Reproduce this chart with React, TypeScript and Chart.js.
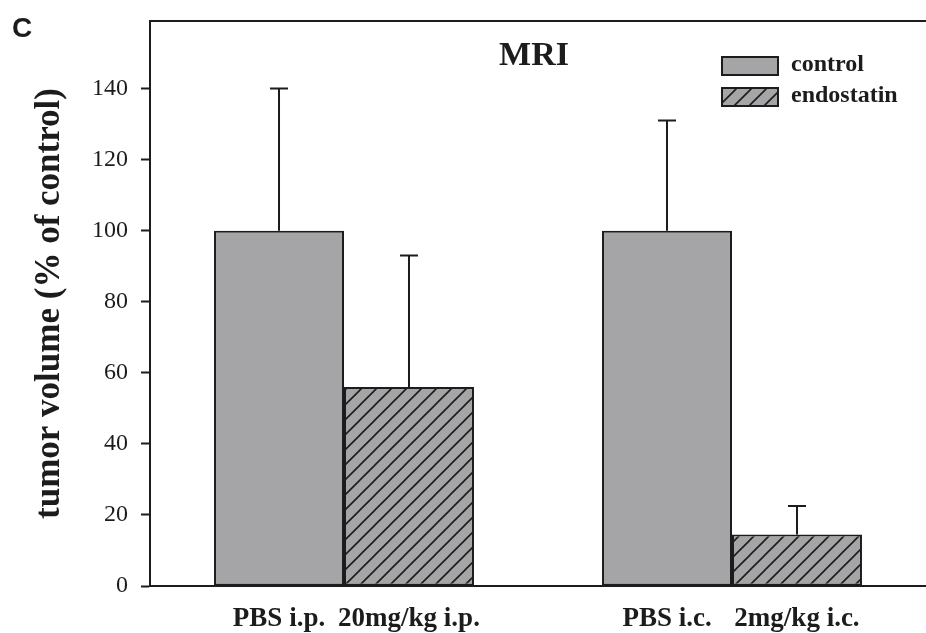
import React, { useEffect, useRef } from "react";
import { Chart, registerables } from "chart.js";

Chart.register(...registerables);

const categories = ["i.p.", "i.c."];
const controlLabels = ["PBS i.p.", "PBS i.c."];
const endostatinLabels = ["20mg/kg i.p.", "2mg/kg i.c."];
const controlValues = [100, 100];
const controlErrors = [40, 31];
const endostatinValues = [56, 14.5];
const endostatinErrors = [37, 8];
const yTicks = [0, 20, 40, 60, 80, 100, 120, 140];
const seriesNames = ["control", "endostatin"];

const DARK = "#1c1c1c";
const GRAY = "#a5a5a8";
const SERIF = "'Liberation Serif', 'Times New Roman', serif";

function makeHatch(): CanvasPattern | string {
  const S = 15;
  const c = document.createElement("canvas");
  c.width = S;
  c.height = S;
  const g = c.getContext("2d");
  if (!g) return GRAY;
  g.fillStyle = GRAY;
  g.fillRect(0, 0, S, S);
  g.strokeStyle = DARK;
  g.lineWidth = 1.6;
  g.beginPath();
  g.moveTo(-2, S + 2);
  g.lineTo(S + 2, -2);
  g.moveTo(-2, 2);
  g.lineTo(2, -2);
  g.moveTo(S - 2, S + 2);
  g.lineTo(S + 2, S - 2);
  g.stroke();
  const p = g.createPattern(c, "repeat");
  return p || GRAY;
}

export default function App() {
  const ref = useRef<HTMLCanvasElement | null>(null);

  useEffect(() => {
    if (!ref.current) return;
    const hatch = makeHatch();
    const errorSets = [controlErrors, endostatinErrors];
    const barLabels = [controlLabels, endostatinLabels];

    const decor = {
      id: "decor",
      afterDatasetsDraw(chart: any) {
        const ctx = chart.ctx as CanvasRenderingContext2D;
        const y = chart.scales.y;
        const area = chart.chartArea;
        ctx.save();
        // top frame line
        ctx.strokeStyle = DARK;
        ctx.lineWidth = 2;
        ctx.beginPath();
        ctx.moveTo(area.left, area.top);
        ctx.lineTo(chart.width, area.top);
        ctx.stroke();
        // error bars
        chart.data.datasets.forEach((ds: any, di: number) => {
          const meta = chart.getDatasetMeta(di);
          meta.data.forEach((bar: any, i: number) => {
            const top = y.getPixelForValue(ds.data[i] + errorSets[di][i]);
            ctx.beginPath();
            ctx.moveTo(bar.x, bar.y);
            ctx.lineTo(bar.x, top);
            ctx.moveTo(bar.x - 9, top);
            ctx.lineTo(bar.x + 9, top);
            ctx.stroke();
          });
        });
        // labels under bars
        ctx.fillStyle = DARK;
        ctx.font = `bold 27px ${SERIF}`;
        ctx.textAlign = "center";
        ctx.textBaseline = "alphabetic";
        chart.data.datasets.forEach((ds: any, di: number) => {
          const meta = chart.getDatasetMeta(di);
          meta.data.forEach((bar: any, i: number) => {
            ctx.fillText(barLabels[di][i], bar.x, area.bottom + 40);
          });
        });
        // title
        ctx.font = `bold 34px ${SERIF}`;
        ctx.textBaseline = "middle";
        ctx.fillText("MRI", 534, 56);
        // panel letter
        ctx.font = "bold 28px 'Liberation Sans', Arial, sans-serif";
        ctx.textAlign = "left";
        ctx.fillText("C", 12, 29);
        // legend
        const fills = [GRAY, hatch];
        seriesNames.forEach((name, k) => {
          const by = 57 + k * 31;
          ctx.fillStyle = fills[k] as any;
          ctx.fillRect(722, by, 56, 18);
          ctx.strokeStyle = DARK;
          ctx.lineWidth = 2;
          ctx.strokeRect(722, by, 56, 18);
          ctx.fillStyle = DARK;
          ctx.font = `bold 24px ${SERIF}`;
          ctx.textAlign = "left";
          ctx.textBaseline = "middle";
          ctx.fillText(name, 791, by + 8);
        });
        ctx.restore();
      },
    };

    const chart = new Chart(ref.current, {
      type: "bar",
      data: {
        labels: categories,
        datasets: [
          {
            label: seriesNames[0],
            data: controlValues,
            backgroundColor: GRAY,
            borderColor: DARK,
            borderWidth: 2,
            borderSkipped: false,
          },
          {
            label: seriesNames[1],
            data: endostatinValues,
            backgroundColor: hatch as any,
            borderColor: DARK,
            borderWidth: 2,
            borderSkipped: false,
          },
        ],
      },
      options: {
        animation: false,
        responsive: false,
        devicePixelRatio: 1,
        layout: { padding: { top: 21, left: 0, right: 0, bottom: 0 } },
        datasets: { bar: { categoryPercentage: 0.67, barPercentage: 1 } },
        plugins: {
          legend: { display: false },
          tooltip: { enabled: false },
          title: { display: false },
        },
        scales: {
          x: {
            grid: { display: true, drawOnChartArea: false, drawTicks: false },
            ticks: { display: false },
            border: { display: true, color: DARK, width: 2 },
            afterFit: (s: any) => {
              s.height = 47;
              s.paddingLeft = 0;
              s.paddingRight = 0;
            },
          },
          y: {
            min: 0,
            max: 159,
            afterBuildTicks: (s: any) => {
              s.ticks = yTicks.map((v) => ({ value: v }));
            },
            grid: {
              drawOnChartArea: false,
              drawTicks: true,
              tickLength: 9,
              tickColor: DARK,
              tickWidth: 2,
            },
            border: { display: true, color: DARK, width: 2 },
            ticks: {
              color: DARK,
              padding: 13,
              font: { family: SERIF, size: 24 },
            },
            title: {
              display: true,
              text: "tumor volume (% of control)",
              color: DARK,
              font: { family: SERIF, size: 35, weight: "bold" },
              padding: { top: 29, bottom: 0 },
            },
            afterFit: (s: any) => {
              s.width = 150;
              s.paddingTop = 0;
              s.paddingBottom = 0;
            },
          },
        },
      },
      plugins: [decor],
    });
    return () => chart.destroy();
  }, []);

  return (
    <div style={{ position: "fixed", left: 0, top: 0, width: 926, height: 633, background: "#fff" }}>
      <canvas ref={ref} width={926} height={633} style={{ display: "block" }} />
    </div>
  );
}
